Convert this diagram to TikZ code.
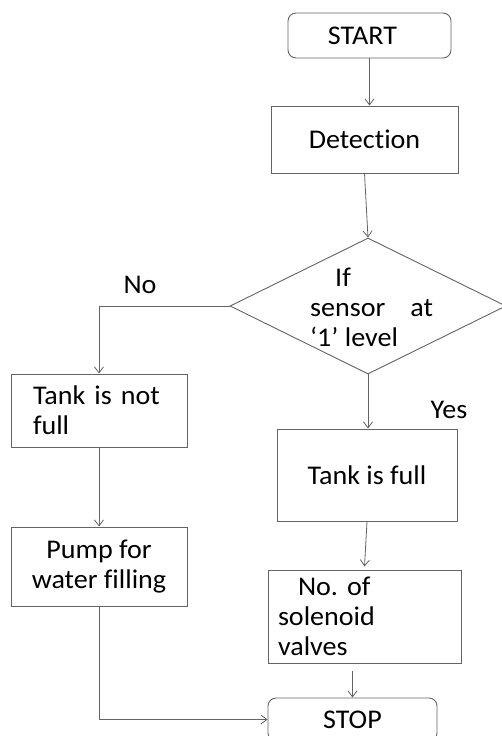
\documentclass[tikz,border=0pt]{standalone}
\usepackage{fontspec}
\setmainfont{Carlito}[Ligatures={NoCommon}, FakeStretch=1.04]
\usetikzlibrary{arrows.meta,shapes.geometric}
\definecolor{linec}{RGB}{100,100,100}
\begin{document}
\frenchspacing
\begin{tikzpicture}[x=1pt,y=-1pt,
  font=\fontsize{27}{30}\selectfont,
  box/.style={draw=linec, line width=0.9pt, inner sep=0pt, rectangle},
  term/.style={box, rounded corners=8pt},
  arr/.style={draw=linec, line width=0.8pt, -{Straight Barb[length=6pt,width=9pt]}},
  lbl/.style={inner sep=0pt}]
\useasboundingbox (0,0) rectangle (502,736);
\clip (0,0) rectangle (502,736);
\fill[white] (0,0) rectangle (502,736);

\node[term, minimum width=163pt, minimum height=45pt] (start) at (369.5,35.5) {START\hspace*{14pt}};
\node[box, minimum width=187pt, minimum height=67pt] (det) at (364.5,139.5) {Detection};
\node[draw=linec, line width=0.9pt, diamond, inner sep=0pt, minimum width=276pt, minimum height=136pt] (dia) at (368,306) {};
\node[lbl, anchor=west, align=left] (diatext) at (310,307) {\hspace*{25pt}If\\sensor\hspace*{25pt}at\\‘1’ level};
\node[box, minimum width=176pt, minimum height=73pt, text width=132pt, align=left] (tnf) at (99,410.5) {Tank is not\\full};
\node[box, minimum width=180pt, minimum height=92pt] (tf) at (367,475) {Tank is full};
\node[box, minimum width=176pt, minimum height=79pt, align=center] (pump) at (99,566.5) {Pump for\\water filling};
\node[box, minimum width=193pt, minimum height=93pt, text width=173pt, align=left] (sol) at (364.5,616.5) {\hspace*{20pt}No. of\\solenoid\\valves};
\node[term, minimum width=169pt, minimum height=43pt] (stop) at (352.5,719.5) {STOP};

\node[lbl] (no) at (140,285) {No};
\node[lbl] (yes) at (449,410) {Yes};

\draw[arr] (start.south) -- (start.south |- det.north);
\draw[arr] (det.south) -- (dia.north);
\draw[arr] (dia.west) -| (tnf.north);
\draw[arr] (dia.south) -- (dia.south |- tf.north);
\draw[arr] (tnf.south) -- (pump.north);
\draw[arr] (tf.south) -- ([yshift=3pt]sol.north);
\draw[arr] ([yshift=-8pt]stop.north |- sol.south) -- (stop.north);
\draw[arr] (pump.south) |- (stop.west);
\end{tikzpicture}
\end{document}
